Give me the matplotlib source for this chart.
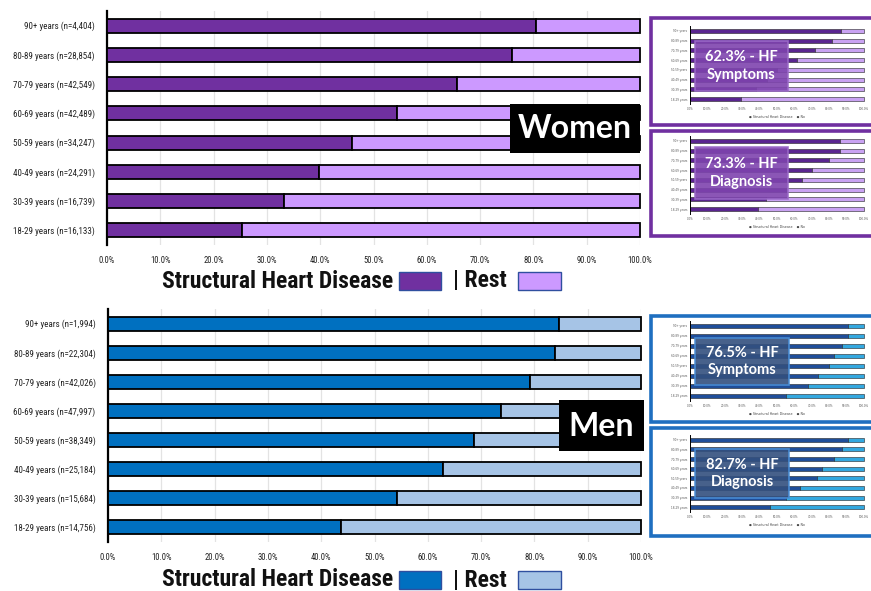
import matplotlib
matplotlib.use('Agg')
import matplotlib.pyplot as plt
from matplotlib.patches import Rectangle
import matplotlib.font_manager as fm

W, H = 871, 591

# ---------------- data ----------------
women_labels = ['18-29 years (n=16,133)', '30-39 years (n=16,739)', '40-49 years (n=24,291)',
                '50-59 years (n=34,247)', '60-69 years (n=42,489)', '70-79 years (n=42,549)',
                '80-89 years (n=28,854)', '90+ years (n=4,404)']
women_shd = [25.4, 33.3, 39.8, 46.0, 54.5, 65.7, 75.9, 80.4]

men_labels = ['18-29 years (n=14,756)', '30-39 years (n=15,684)', '40-49 years (n=25,184)',
              '50-59 years (n=38,349)', '60-69 years (n=47,997)', '70-79 years (n=42,026)',
              '80-89 years (n=22,304)', '90+ years (n=1,994)']
men_shd = [43.8, 54.2, 62.8, 68.7, 73.8, 79.1, 83.9, 84.6]

age_groups = ['18-29 years', '30-39 years', '40-49 years', '50-59 years',
              '60-69 years', '70-79 years', '80-89 years', '90+ years']
women_hf_symptoms = [29.2, 38.0, 44.0, 50.0, 61.7, 71.7, 81.5, 86.8]
women_hf_diagnosis = [39.0, 43.8, 55.0, 64.2, 70.2, 79.6, 86.2, 86.2]
men_hf_symptoms = [55.3, 67.9, 73.5, 80.1, 82.6, 87.2, 90.6, 90.6]
men_hf_diagnosis = [46.0, 55.3, 63.2, 72.8, 76.0, 82.6, 87.6, 91.0]

x_ticks = [0, 10, 20, 30, 40, 50, 60, 70, 80, 90, 100]
x_tick_labels = ['0.0%', '10.0%', '20.0%', '30.0%', '40.0%', '50.0%',
                 '60.0%', '70.0%', '80.0%', '90.0%', '100.0%']

# ---------------- fonts ----------------
avail = {f.name for f in fm.fontManager.ttflist}
def pick(*names):
    for n in names:
        if n in avail:
            return n
    return 'DejaVu Sans'
NARROW = pick('Liberation Sans Narrow', 'Roboto Condensed', 'Open Sans Condensed', 'Roboto')
BOLDF = pick('Lato', 'Open Sans', 'Roboto')

fig = plt.figure(figsize=(W / 100, H / 100), dpi=100)
fig.patch.set_facecolor('white')


def px(x0, y0, x1, y1):
    return [x0 / W, 1 - y1 / H, (x1 - x0) / W, (y1 - y0) / H]


def frect(x0, y0, x1, y1, **kw):
    r = Rectangle((x0 / W, 1 - y1 / H), (x1 - x0) / W, (y1 - y0) / H,
                  transform=fig.transFigure, clip_on=False, **kw)
    fig.add_artist(r)
    return r


def ftext(x, y, s, **kw):
    return fig.text(x / W, 1 - y / H, s, **kw)


# ---------------- main panels ----------------
def main_panel(rect, labels, vals, dark, light):
    ax = fig.add_axes(px(*rect))
    y = list(range(len(labels)))
    rest = [100 - v for v in vals]
    ax.barh(y, vals, height=0.48, color=dark, edgecolor='black', lw=1.3, zorder=3, clip_on=False)
    ax.barh(y, rest, left=vals, height=0.48, color=light, edgecolor='black', lw=1.3, zorder=3,
            clip_on=False)
    ax.set_xlim(0, 100)
    ax.set_ylim(-0.5, 7.5)
    ax.set_xticks(x_ticks)
    ax.set_xticklabels(x_tick_labels, fontsize=6.2, family=NARROW, color='#222222')
    ax.set_yticks(y)
    ax.set_yticklabels(labels, fontsize=6.5, family=NARROW, color='#222222')
    ax.tick_params(axis='x', length=0, pad=8)
    ax.tick_params(axis='y', length=0, pad=9)
    ax.xaxis.grid(True, color='#e3e3e3', lw=0.9, zorder=0)
    ax.set_axisbelow(True)
    for s in ['top', 'right', 'bottom']:
        ax.spines[s].set_visible(False)
    ax.spines['left'].set_linewidth(1.6)
    ax.spines['left'].set_color('black')
    return ax


main_panel((107, 11, 640, 245), women_labels, women_shd, '#7030A0', '#CC99FF')
main_panel((108, 309, 641, 542), men_labels, men_shd, '#0070C0', '#A6C4E6')

# group boxes
frect(510, 104, 640, 153, facecolor='black', edgecolor='none', zorder=10)
ftext(575, 129, 'Women', color='white', fontsize=23, fontweight='bold', family=BOLDF,
      ha='center', va='center', zorder=11)
frect(559, 400, 644, 451, facecolor='black', edgecolor='none', zorder=10)
ftext(601.5, 426, 'Men', color='white', fontsize=23, fontweight='bold', family=BOLDF,
      ha='center', va='center', zorder=11)


# legends
def legend_row(yc, dark, light):
    ftext(393, yc, 'Structural Heart Disease', fontsize=17, fontweight='bold', family=NARROW,
          ha='right', va='center', color='#111111')
    frect(399, yc - 9, 441, yc + 9, facecolor=dark, edgecolor='#2F4F9F', lw=1)
    ftext(453, yc, '| Rest', fontsize=17, fontweight='bold', family=NARROW,
          ha='left', va='center', color='#111111')
    frect(518, yc - 9, 561, yc + 9, facecolor=light, edgecolor='#2F4F9F', lw=1)


legend_row(281, '#7030A0', '#CC99FF')
legend_row(580, '#0070C0', '#A6C4E6')


# ---------------- inset thumbnails ----------------
def inset(border, axr, box, vals, dark, light, bcol, boxcol, boxedge, text, ylab_fs=2.0):
    frect(border[0], border[1], border[2], border[3], facecolor='white', edgecolor=bcol,
          lw=2.6, zorder=1)
    ax = fig.add_axes(px(*axr))
    ax.set_zorder(2)
    y = list(range(len(vals)))
    rest = [100 - v for v in vals]
    ax.barh(y, vals, height=0.42, color=dark, edgecolor='#222222', lw=0.4, clip_on=False)
    ax.barh(y, rest, left=vals, height=0.42, color=light, edgecolor='#222222', lw=0.4,
            clip_on=False)
    ax.set_xlim(0, 100)
    ax.set_ylim(-0.5, 7.5)
    ax.set_xticks(x_ticks)
    ax.set_xticklabels(x_tick_labels, fontsize=2.0, color='#555555')
    ax.set_yticks(y)
    ax.set_yticklabels(age_groups, fontsize=ylab_fs, color='#555555')
    ax.tick_params(length=0, pad=2)
    for s in ['top', 'right', 'bottom']:
        ax.spines[s].set_visible(False)
    ax.spines['left'].set_linewidth(0.7)
    ax.patch.set_alpha(0)
    # mini legend
    ftext((axr[0] + axr[2]) / 2, axr[3] + 13,
          '\u25CF Structural Heart Disease    \u25CF No', fontsize=2.3, color='#444444',
          ha='center', va='center', zorder=3)
    # overlay box
    frect(box[0], box[1], box[2], box[3], facecolor=boxcol, edgecolor=boxedge, lw=1.2,
          alpha=0.9, zorder=5)
    ftext((box[0] + box[2]) / 2, (box[1] + box[3]) / 2, text, color='white', fontsize=10.5,
          fontweight='bold', family=BOLDF, ha='center', va='center', linespacing=1.35, zorder=6)


inset((651, 18, 880, 125), (690, 26, 864, 104), (695, 41, 788, 91), women_hf_symptoms,
      '#5A2590', '#C9A2F2', '#7030A0', '#7E44AE', '#9B6BC8', '62.3% - HF\nSymptoms')
inset((651, 131, 880, 236), (690, 136, 864, 214), (695, 147, 788, 199), women_hf_diagnosis,
      '#5A2590', '#C9A2F2', '#7030A0', '#7E44AE', '#9B6BC8', '73.3% - HF\nDiagnosis')
inset((651, 316, 880, 422), (690, 321, 864, 401), (695, 338, 789, 385), men_hf_symptoms,
      '#1F4E9A', '#33A8E0', '#1F6FC0', '#33507F', '#4A90D9', '76.5% - HF\nSymptoms')
inset((651, 428, 880, 536), (690, 435, 864, 512), (695, 449, 789, 498), men_hf_diagnosis,
      '#1F4E9A', '#33A8E0', '#1F6FC0', '#33507F', '#4A90D9', '82.7% - HF\nDiagnosis')

fig.savefig('out.png', dpi=100, facecolor='white')
